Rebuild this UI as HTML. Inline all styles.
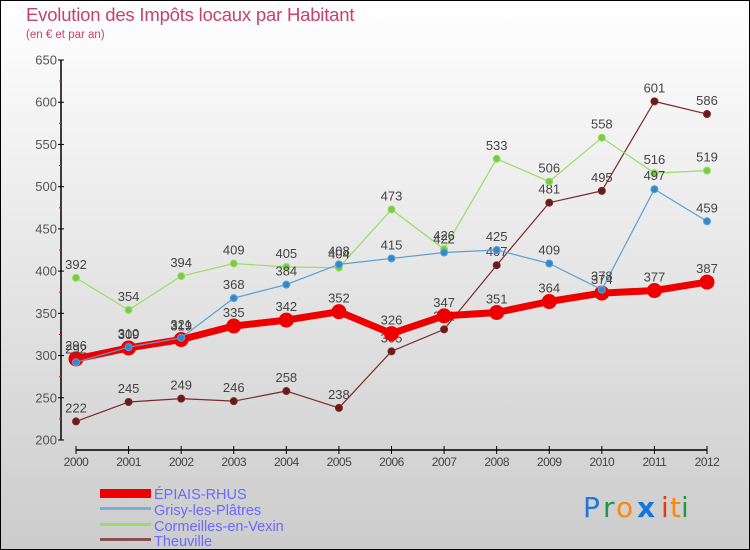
<!DOCTYPE html>
<html><head><meta charset="utf-8"><style>
html,body{margin:0;padding:0}
body{width:750px;height:550px;overflow:hidden;font-family:"Liberation Sans",sans-serif}
svg{display:block}
</style></head><body>
<svg id="chart" width="750" height="550" xmlns="http://www.w3.org/2000/svg">
<defs><linearGradient id="bg" x1="0" y1="0" x2="0" y2="1"><stop offset="0" stop-color="#ffffff"/><stop offset="1" stop-color="#cccccc"/></linearGradient></defs>
<rect x="0.5" y="0.5" width="749" height="549" fill="url(#bg)" stroke="#000" stroke-width="1"/>
<text x="26" y="21" font-size="18.5" fill="#c84070" font-weight="normal" letter-spacing="-0.2">Evolution des Impôts locaux par Habitant</text>
<text x="26" y="38" font-size="11.5" fill="#c84070">(en € et par an)</text>
<g id="axes"></g>
<g id="series"></g>
<g id="legend">
<rect x="100" y="489" width="51" height="9" fill="#ee0000"/>
<text x="154" y="499" font-size="14.5" fill="#6a6aff">ÉPIAIS-RHUS</text>
<rect x="100" y="507" width="51" height="3" fill="#7ab0d6"/>
<text x="154" y="515" font-size="14.5" fill="#6a6aff">Grisy-les-Plâtres</text>
<rect x="100" y="523" width="51" height="3" fill="#99dd66"/>
<text x="154" y="531" font-size="14.5" fill="#6a6aff">Cormeilles-en-Vexin</text>
<rect x="100" y="538" width="51" height="3" fill="#8a5050"/>
<text x="154" y="546" font-size="14.5" fill="#6a6aff">Theuville</text>
</g>
<g font-size="28" font-family="'DejaVu Sans',sans-serif">
<text x="583" y="517" fill="#2277dd">P</text><text x="603" y="517" fill="#229944">r</text><text x="616" y="517" fill="#ff8800">o</text><text x="637" y="517" fill="#1177dd" font-weight="bold">x</text><text x="661" y="517" fill="#ee3311">i</text><text x="670" y="517" fill="#ff8800">t</text><text x="681" y="517" fill="#229944">i</text>
</g>
</svg>
<script>
const years = [2000,2001,2002,2003,2004,2005,2006,2007,2008,2009,2010,2011,2012];
const epiais = [296,309,319,335,342,352,326,347,351,364,374,377,387];
const grisy = [292,310,321,368,384,408,415,422,425,409,378,497,459];
const cormeilles = [392,354,394,409,405,404,473,426,533,506,558,516,519];
const theuville = [222,245,249,246,258,238,305,331,407,481,495,601,586];
const yTicks = [200,250,300,350,400,450,500,550,600,650];

const NS = "http://www.w3.org/2000/svg";
const x = i => 76 + i * (707 - 76) / (years.length - 1);
const y = v => 440 - (v - 200) * 380 / 450;
function mk(tag, attrs, parent){const e=document.createElementNS(NS,tag);for(const k in attrs)e.setAttribute(k,attrs[k]);parent.appendChild(e);return e;}

const axes = document.getElementById('axes');
const yAxis = mk('line',{x1:61,y1:60,x2:61,y2:440,stroke:'#000','stroke-width':1.5},axes);


yTicks.forEach(t=>{
  const tk = mk('line',{x1:58,y1:y(t),x2:64,y2:y(t),stroke:'#000'},axes);
  
  
  const lb = mk('text',{x:57,y:y(t)+4.5,'font-size':13,'text-anchor':'end',fill:'#555'},axes);
  lb.textContent = t;
  
  
  if(t<650){
    const m = mk('line',{x1:59,y1:y(t+25),x2:61,y2:y(t+25),stroke:'#ee2222'},axes);
    
    
  }
});
const xAxis = mk('line',{x1:76,y1:450,x2:707,y2:450,stroke:'#000','stroke-width':1.5},axes);


years.forEach((yr,i)=>{
  const tk = mk('line',{x1:x(i),y1:446,x2:x(i),y2:454,stroke:'#000'},axes);
  
  
  const lb = mk('text',{x:x(i),y:466,'font-size':12,'text-anchor':'middle',fill:'#444','letter-spacing':'-0.5'},axes);
  lb.textContent = yr;
  
  
});

const series = document.getElementById('series');
function draw(vals, name, color, dot, lw, r){
  const g = mk('g',{},series);
  
  
  const pl = mk('polyline',{points:vals.map((v,i)=>x(i)+','+y(v)).join(' '),fill:'none',stroke:color,'stroke-width':lw,'stroke-linejoin':'round'},g);
  
  
  vals.forEach((v,i)=>{
    const c = mk('circle',{cx:x(i),cy:y(v),r:r,fill:dot,stroke:color,'stroke-width':1},g);
    
    
    const t = mk('text',{x:x(i),y:y(v)-9,'font-size':13,'text-anchor':'middle',fill:'#444'},g);
    t.textContent = v;
    
    
  });
}
draw(theuville,'theuville','#7a2a2a','#6b1a1a',1.2,3.5);
draw(cormeilles,'cormeilles','#99dd66','#77cc44',1.2,3.5);
draw(epiais,'epiais','#ee0000','#ee0000',7,7);
draw(grisy,'grisy','#5aa0d6','#3388cc',1.2,3.5);
</script>
</body></html>
